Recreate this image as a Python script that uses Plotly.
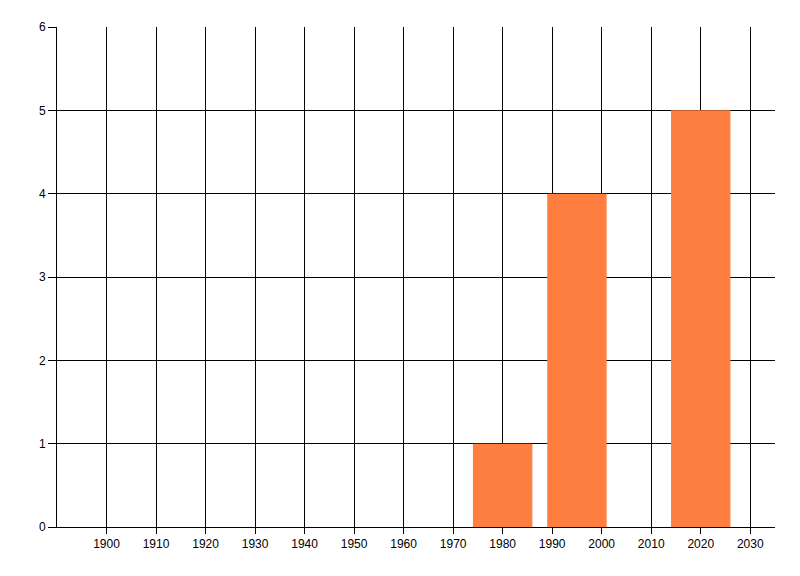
import plotly.graph_objects as go

years = [1980, 1995, 2020]
counts = [1, 4, 5]
x_ticks = list(range(1900, 2031, 10))
y_ticks = [0, 1, 2, 3, 4, 5, 6]

fig = go.Figure()
fig.add_trace(go.Bar(
    x=years, y=counts, width=12,
    marker=dict(color="#FF7F40", line=dict(width=0)),
))

fig.update_layout(
    width=800, height=576,
    margin=dict(l=49, r=33, t=19, b=57),
    paper_bgcolor="white", plot_bgcolor="white",
    showlegend=False,
    font=dict(family="Liberation Sans Narrow, Liberation Sans, Arial, sans-serif", size=12, color="#000000"),
)
fig.update_xaxes(
    range=[1890, 2035], tickvals=x_ticks, ticktext=[str(v) for v in x_ticks],
    showgrid=True, gridcolor="black", gridwidth=1,
    showline=True, linecolor="black", linewidth=1,
    ticks="outside", ticklen=6, tickcolor="black", tickwidth=1,
    zeroline=False, fixedrange=True,
)
fig.update_yaxes(
    range=[0, 6], tickvals=y_ticks,
    showgrid=True, gridcolor="black", gridwidth=1,
    showline=True, linecolor="black", linewidth=1,
    ticks="outside", ticklen=8, tickcolor="black", tickwidth=1,
    zeroline=False, fixedrange=True,
)

fig.write_html("out.html")
